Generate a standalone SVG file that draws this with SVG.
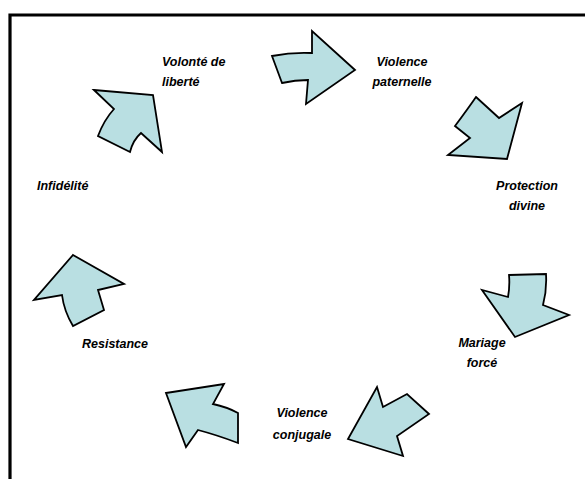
<svg xmlns="http://www.w3.org/2000/svg" width="585" height="479" viewBox="0 0 585 479">
<style>
.arrow{fill:#B9DFE2;stroke:#000;stroke-width:1.8;stroke-linejoin:miter}
.lbl{font-family:"Liberation Sans",Arial,sans-serif;font-size:12.5px;font-weight:bold;font-style:italic;fill:#000}
.c{text-anchor:middle}
</style>
<rect x="0" y="0" width="585" height="479" fill="#fff"/>
<path d="M10,479 V15 H585" fill="none" stroke="#000" stroke-width="3.2"/>
<g id="connectors">
<path id="a1" class="arrow" d="M94,90 L153,95 L162,152 L141,133 Q133,140 130,152 L98,136 Q104,120 114,109 Z"/>
<path id="a2" class="arrow" d="M272,56 Q292,52 312,53 L312,31 L355,70 L306,104 L308,80 Q295,80 282,83 Z"/>
<path id="a3" class="arrow" d="M476,97 L499,118 L522,103 L507,159 L448,155 L470,138 L455,126 Q467,110 476,97 Z"/>
<path id="a4" class="arrow" d="M509,275 L546,274 Q547,290 543,305 L569,315 L515,337 L482,290 L508,297 Q510,286 509,275 Z"/>
<path id="a5" class="arrow" d="M377,387 L383,407 L407,394 Q418,404 429,414 L397,436 L403,456 L348,439 Z"/>
<path id="a6" class="arrow" d="M166,393 L224,384 L213,404 Q227,407 238,413 L238,443 Q217,435 198,430 L186,447 Z"/>
<path id="a7" class="arrow" d="M73,255 L124,284 L98,290 L104,310 L73,326 Q64,311 62,295 L34,300 Z"/>
</g>
<g id="n-volonte"><text class="lbl" x="162" y="66">Volonté de</text><text class="lbl" x="162" y="86">liberté</text></g>
<g id="n-violence-paternelle"><text class="lbl c" x="402" y="66">Violence</text><text class="lbl c" x="402" y="86">paternelle</text></g>
<g id="n-protection"><text class="lbl c" x="527" y="190">Protection</text><text class="lbl c" x="527" y="210">divine</text></g>
<g id="n-mariage"><text class="lbl c" x="482" y="347">Mariage</text><text class="lbl c" x="482" y="367">forcé</text></g>
<g id="n-violence-conjugale"><text class="lbl c" x="302" y="417">Violence</text><text class="lbl c" x="302" y="439">conjugale</text></g>
<g id="n-resistance"><text class="lbl" x="82" y="348">Resistance</text></g>
<g id="n-infidelite"><text class="lbl" x="37" y="190">Infidélité</text></g>
</svg>
